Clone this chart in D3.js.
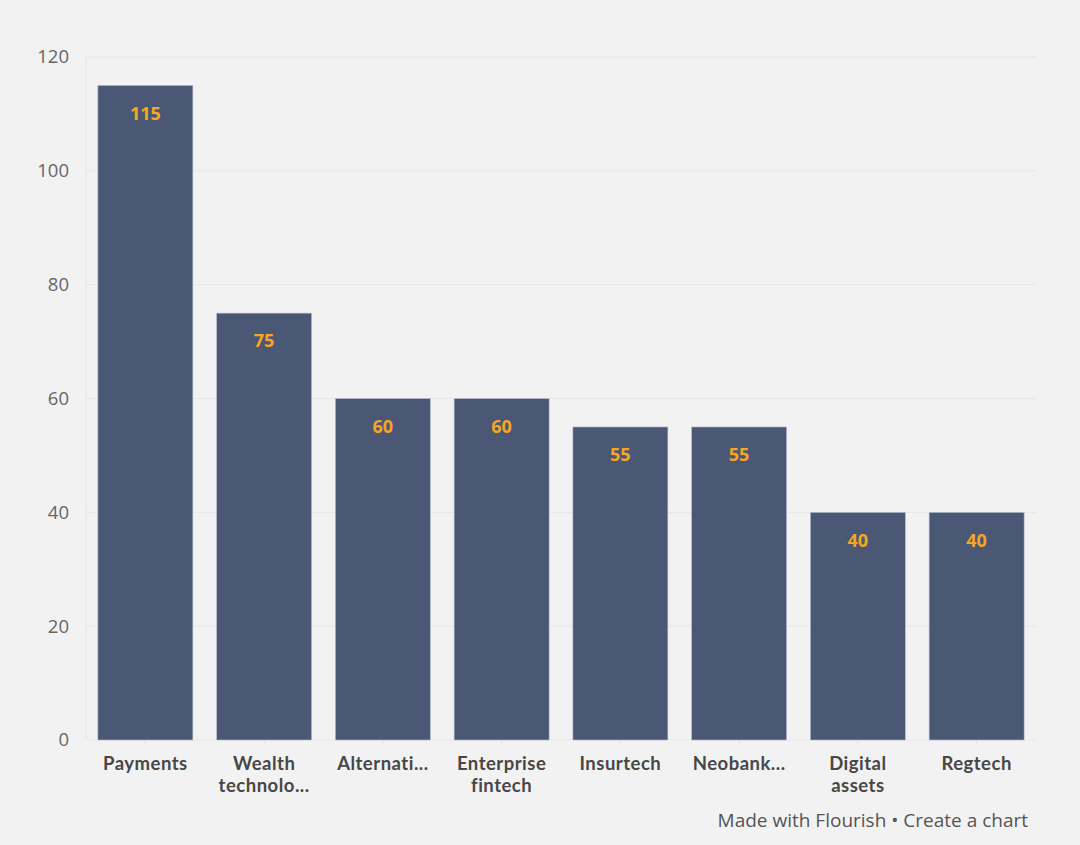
<!DOCTYPE html>
<html lang="en">
<head>
<meta charset="UTF-8">
<title>Fintech segments</title>
<script src="https://d3js.org/d3.v7.min.js"></script>
<style>
  body { margin: 0; padding: 0; background: #f2f2f2; }
  text { font-family: "Open Sans", "Noto Sans", sans-serif; }
</style>
</head>
<body>
<script>
  const categories = ["Payments", "Wealth technolo...", "Alternati...", "Enterprise fintech",
                      "Insurtech", "Neobank...", "Digital assets", "Regtech"];
  const labelLines = [["Payments"], ["Wealth", "technolo..."], ["Alternati..."], ["Enterprise", "fintech"],
                      ["Insurtech"], ["Neobank..."], ["Digital", "assets"], ["Regtech"]];
  const values = [115, 75, 60, 60, 55, 55, 40, 40];
  const yTicks = [0, 20, 40, 60, 80, 100, 120];

  const width = 1080, height = 845;
  const margin = { top: 57, right: 44, bottom: 105, left: 86 };

  const svg = d3.select("body").append("svg")
    .attr("width", width)
    .attr("height", height)
    .style("background", "#f2f2f2");

  const x = d3.scaleBand()
    .domain(categories)
    .range([margin.left, width - margin.right])
    .paddingInner(0.2)
    .paddingOuter(0.1);

  const y = d3.scaleLinear()
    .domain([0, 120])
    .range([height - margin.bottom, margin.top]);

  // grid
  svg.append("g")
    .selectAll("line")
    .data(yTicks)
    .join("line")
    .attr("x1", margin.left)
    .attr("x2", width - margin.right)
    .attr("y1", d => y(d))
    .attr("y2", d => y(d))
    .attr("stroke", "#e6e6e6")
    .attr("stroke-width", 1);

  svg.append("line")
    .attr("x1", margin.left).attr("x2", margin.left)
    .attr("y1", y(120)).attr("y2", y(0))
    .attr("stroke", "#e6e6e6");

  // y axis labels
  svg.append("g")
    .selectAll("text")
    .data(yTicks)
    .join("text")
    .attr("x", 69)
    .attr("y", d => y(d))
    .attr("dy", "0.35em")
    .attr("text-anchor", "end")
    .attr("fill", "#666")
    .style("font-size", "18.5px")
    .text(d => d);

  // ticks below baseline
  svg.append("g")
    .selectAll("line")
    .data(categories)
    .join("line")
    .attr("x1", d => x(d) + x.bandwidth() / 2)
    .attr("x2", d => x(d) + x.bandwidth() / 2)
    .attr("y1", y(0))
    .attr("y2", y(0) + 5)
    .attr("stroke", "#e3e3e3");

  // bars
  svg.append("g")
    .selectAll("rect")
    .data(values)
    .join("rect")
    .attr("x", (d, i) => x(categories[i]))
    .attr("y", d => y(d))
    .attr("width", x.bandwidth())
    .attr("height", d => y(0) - y(d))
    .attr("fill", "#4a5875")
    .attr("stroke", "#b8c0cf")
    .attr("stroke-width", 0.6);

  // value labels
  svg.append("g")
    .selectAll("text")
    .data(values)
    .join("text")
    .attr("x", (d, i) => x(categories[i]) + x.bandwidth() / 2)
    .attr("y", d => y(d) + 28)
    .attr("dy", "0.35em")
    .attr("text-anchor", "middle")
    .attr("fill", "#f5a623")
    .style("font-size", "18px")
    .style("font-weight", "700")
    .text(d => d);

  // category labels, one text per line (Lato: tighter line box)
  labelLines.forEach((lines, i) => {
    svg.append("g")
      .selectAll("text")
      .data(lines)
      .join("text")
      .attr("x", x(categories[i]) + x.bandwidth() / 2)
      .attr("y", (d, j) => y(0) + 29.5 + j * 22.3)
      .attr("text-anchor", "middle")
      .attr("fill", "#474747")
      .style("font-family", "Lato, sans-serif")
      .style("font-size", "18.5px")
      .style("letter-spacing", "0.5px")
      .style("font-weight", "700")
      .text(d => d);
  });

  svg.append("text")
    .attr("x", 1028)
    .attr("y", 827)
    .attr("text-anchor", "end")
    .attr("fill", "#555")
    .style("font-size", "19px")
    .text("Made with Flourish • Create a chart");
</script>
</body>
</html>
